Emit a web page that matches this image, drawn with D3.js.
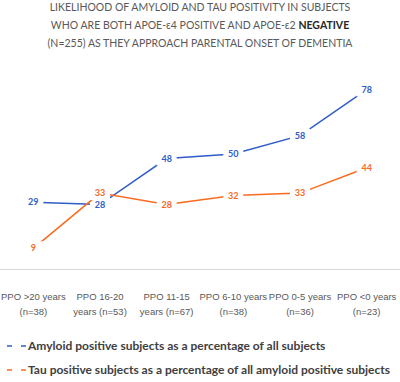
<!DOCTYPE html>
<html>
<head>
<meta charset="utf-8">
<script src="https://cdn.jsdelivr.net/npm/d3@7"></script>
<style>
  body { margin: 0; background: #fff; }
  svg { display: block; font-family: Lato, "Open Sans", sans-serif; }
</style>
</head>
<body>
<svg id="chart" width="400" height="382"></svg>
<script>
// chart data
const categories = ["PPO >20 years", "PPO 16-20 years", "PPO 11-15 years", "PPO 6-10 years", "PPO 0-5 years", "PPO <0 years"];
const categoryLines = [
  ["PPO >20 years", "(n=38)"],
  ["PPO 16-20", "years (n=53)"],
  ["PPO 11-15", "years (n=67)"],
  ["PPO 6-10 years", "(n=38)"],
  ["PPO 0-5 years", "(n=36)"],
  ["PPO <0 years", "(n=23)"]
];
const amyloid = [29, 28, 48, 50, 58, 78];
const tau = [9, 33, 28, 32, 33, 44];
const seriesNames = [
  "Amyloid positive subjects as a percentage of all subjects",
  "Tau positive subjects as a percentage of all amyloid positive subjects"
];
const titleLines = [
  [["LIKELIHOOD OF AMYLOID AND TAU POSITIVITY IN SUBJECTS", false]],
  [["WHO ARE BOTH APOE-\u03B54 POSITIVE AND APOE-\u03B52 ", false], ["NEGATIVE", true]],
  [["(N=255) AS THEY APPROACH PARENTAL ONSET OF DEMENTIA", false]]
];

const width = 400, height = 382;
const margin = { top: 85, bottom: 113, left: 0, right: 0 };
const blue = "#2f5cc8", orange = "#fb6a1f";

const svg = d3.select("#chart");

var x = d3.scaleBand()
  .domain(categories)
  .range([margin.left, width - margin.right]);

var y = d3.scaleLinear()
  .domain([0, 80])
  .range([height - margin.bottom, margin.top]);

// title
const title = svg.append("text")
  .attr("text-anchor", "middle")
  .attr("font-size", 10.5)
  .attr("fill", "#595959");
titleLines.forEach((parts, i) => {
  const line = title.append("tspan")
    .attr("x", width / 2)
    .attr("y", 11 + i * 18);
  parts.forEach(p => {
    line.append("tspan")
      .attr("font-weight", p[1] ? "bold" : "normal")
      .attr("fill", p[1] ? "#262626" : "#595959")
      .text(p[0]);
  });
});

// x axis
const xAxis = svg.append("g")
  .attr("transform", `translate(0,${height - margin.bottom})`)
  .call(d3.axisBottom(x).tickSize(0).tickSizeOuter(0));
xAxis.select(".domain").attr("stroke", "#d9d9d9").attr("d", `M0,0.5H${width}`);
xAxis.selectAll(".tick text").remove();
xAxis.selectAll(".tick").append("text")
  .attr("text-anchor", "middle")
  .attr("font-size", 9.5)
  .attr("fill", "#595959")
  .each(function (d, i) {
    categoryLines[i].forEach((t, j) => {
      d3.select(this).append("tspan")
        .attr("x", 0)
        .attr("y", 31 + j * 15)
        .text(t);
    });
  });

const cx = c => x(c) + x.bandwidth() / 2;

function drawSeries(values, color) {
  const pts = values.map((v, i) => ({ c: categories[i], v: v }));
  const line = d3.line()
    .x(d => cx(d.c))
    .y(d => y(d.v));
  svg.append("path")
    .datum(pts)
    .attr("fill", "none")
    .attr("stroke", color)
    .attr("stroke-width", 1.5)
    .attr("d", line);
  const g = svg.append("g").selectAll("g")
    .data(pts)
    .join("g")
    .attr("transform", d => `translate(${cx(d.c)},${y(d.v)})`);
  g.append("rect")
    .attr("x", -10).attr("y", -7)
    .attr("width", 20).attr("height", 14)
    .attr("fill", "#fff");
  g.append("text")
    .attr("text-anchor", "middle")
    .attr("dy", "0.35em")
    .attr("font-size", 9)
    .attr("font-weight", "bold")
    .attr("fill", color)
    .text(d => d.v);
}
drawSeries(amyloid, blue);
drawSeries(tau, orange);

// legend
const legend = svg.append("g").selectAll("g")
  .data(seriesNames)
  .join("g")
  .attr("transform", (d, i) => `translate(0,${346 + i * 24})`);
legend.append("line")
  .attr("x1", 7).attr("x2", 26)
  .attr("stroke", (d, i) => i === 0 ? blue : orange)
  .attr("stroke-width", 1.5)
  .attr("stroke-dasharray", "5,9");
legend.append("text")
  .attr("x", 28)
  .attr("dy", "0.35em")
  .attr("font-size", 12)
  .attr("font-weight", "bold")
  .attr("fill", "#404040")
  .text(d => d);
</script>
</body>
</html>
